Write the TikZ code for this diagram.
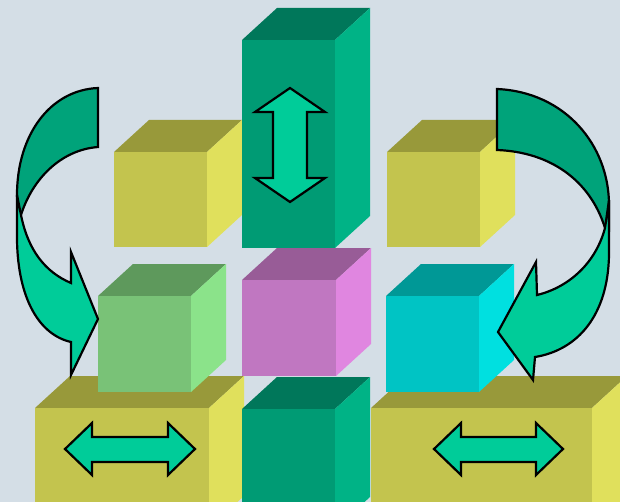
\documentclass[tikz,border=0pt]{standalone}
\usepackage{tikz}

\definecolor{bg}{HTML}{D4DEE6}
\definecolor{yelF}{HTML}{C3C44E}
\definecolor{yelT}{HTML}{98993A}
\definecolor{yelS}{HTML}{E0E05C}
\definecolor{teaF}{HTML}{009B74}
\definecolor{teaT}{HTML}{00775A}
\definecolor{teaS}{HTML}{00B386}
\definecolor{limF}{HTML}{79C277}
\definecolor{limT}{HTML}{5E995C}
\definecolor{limS}{HTML}{8BE38A}
\definecolor{magF}{HTML}{C077C1}
\definecolor{magT}{HTML}{985C97}
\definecolor{magS}{HTML}{E086E0}
\definecolor{cyaF}{HTML}{00C4C4}
\definecolor{cyaT}{HTML}{009896}
\definecolor{cyaS}{HTML}{00E0E0}
\definecolor{arrLight}{HTML}{00CC99}
\definecolor{arrDark}{HTML}{00A37A}

% box with front face at (#1,#2), size #3 x #4, colours front/top/side
\newcommand{\block}[7]{%
  \fill[#6] (#1,#2) -- ++(35,-32) -- ++(#3,0) -- ++(-35,32) -- cycle;
  \fill[#7] (#1+#3,#2) -- ++(35,-32) -- ++(0,#4) -- ++(-35,32) -- cycle;
  \fill[#5] (#1,#2) rectangle ++(#3,#4);}

\tikzset{
  arrowshape/.style={draw=black, line width=1.1pt, line join=miter, fill=arrLight},
  arrowdark/.style={arrowshape, fill=arrDark}
}

\begin{document}
\begin{tikzpicture}[x=0.5pt,y=-0.5pt]
      \useasboundingbox (0,0) rectangle (620,502);
      \fill[bg] (0,0) rectangle (620,502);
      \clip (0,0) rectangle (620,502);

      \block{114}{152}{93}{95}{yelF}{yelT}{yelS}
      \block{242}{40}{93}{208}{teaF}{teaT}{teaS}
      \block{387}{152}{93}{95}{yelF}{yelT}{yelS}

      \block{35}{408}{174}{120}{yelF}{yelT}{yelS}
      \block{242}{409}{93}{120}{teaF}{teaT}{teaS}
      \block{371}{408}{221}{120}{yelF}{yelT}{yelS}

      \block{98}{296}{93}{96}{limF}{limT}{limS}
      \block{242}{280}{94}{96}{magF}{magT}{magS}
      \block{386}{296}{93}{96}{cyaF}{cyaT}{cyaS}

      \draw[arrowshape] (290,88) -- (325,112) -- (307,112) -- (307,178) -- (325,178)
        -- (290,202) -- (255,178) -- (273,178) -- (273,112) -- (255,112) -- cycle;

      \foreach \xa/\xb in {65/195, 434/563}
        \draw[arrowshape] (\xa,449) -- (\xa+27,423) -- (\xa+27,437) -- (\xb-27,437)
          -- (\xb-27,423) -- (\xb,449) -- (\xb-27,475) -- (\xb-27,462)
          -- (\xa+27,462) -- (\xa+27,475) -- cycle;

      % left turning arrow
      \draw[arrowdark] (98,88) .. controls (50,90) and (17,135) .. (17,195) -- (18,213)
        -- (21,215) .. controls (32,180) and (60,150) .. (98,147) -- cycle;
      \draw[arrowshape] (17,195) -- (17,240) .. controls (18,300) and (40,335) .. (71,342)
        -- (71,375) -- (98,319) -- (71,252) -- (71,283)
        .. controls (45,272) and (28,250) .. (21,215) -- cycle;

      % right turning arrow
      \draw[arrowdark] (497,89) .. controls (565,92) and (609,145) .. (609,205) -- (609,230)
        -- (605,228) .. controls (590,180) and (550,152) .. (497,150) -- cycle;
      \draw[arrowshape] (609,200) -- (609,255) .. controls (608,315) and (578,350) .. (535,357)
        -- (533,380) -- (498,332) -- (536,262) -- (537,295)
        .. controls (570,287) and (596,262) .. (605,228) -- cycle;
\end{tikzpicture}
\end{document}
